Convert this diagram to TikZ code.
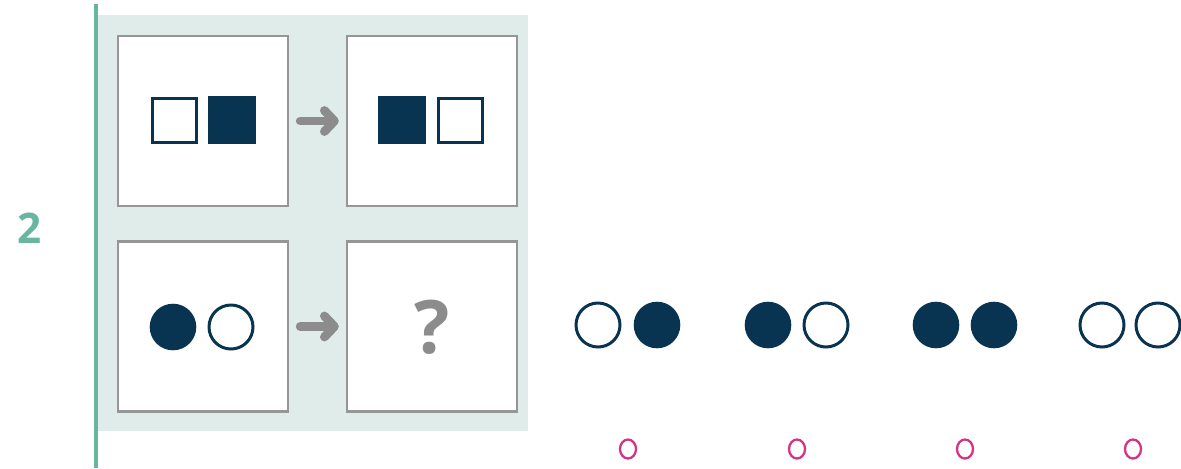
\documentclass[tikz,border=0pt]{standalone}
\usepackage{fontspec}
\newfontfamily\puzzlefont{Open Sans}
\usetikzlibrary{arrows.meta}

\definecolor{navy}{RGB}{8,52,82}
\definecolor{tealmark}{RGB}{104,182,160}
\definecolor{panelbg}{RGB}{223,236,233}
\definecolor{boxgray}{RGB}{150,150,150}
\definecolor{arrowgray}{RGB}{140,140,140}
\definecolor{pickpink}{RGB}{214,51,132}

\tikzset{
  puzzlebox/.style={draw=boxgray, line width=1.4pt, fill=white,
    minimum size=3.4cm, inner sep=0pt},
  puzzlearrow/.style={draw=arrowgray, line width=5pt, line cap=round,
    -{Straight Barb[round, length=0.2cm, width=0.42cm]},
    shorten <=0.22cm, shorten >=0.14cm},
  openshape/.style={draw=navy, line width=1.7pt, fill=white, radius=22},
  fullshape/.style={fill=navy, radius=23.3},
  pickmark/.style={draw=pickpink, line width=1.3pt}
}

\begin{document}
\begin{tikzpicture}[x=0.02cm,y=-0.02cm]
    \useasboundingbox (0,0) rectangle (1181,468);

    % question number and margin line
    \node[text=tealmark, font=\puzzlefont\bfseries\fontsize{24}{24}\selectfont] (qnum) at (30,228) {2};
    \fill[panelbg] (98,15) rectangle (528,431);
    \draw[tealmark, line width=2.8pt] (96,4) -- (96,468);

    % the four boxes
    \node[puzzlebox] (topleft) at (203,121) {};
    \node[puzzlebox] (topright) at (432,121) {};
    \node[puzzlebox] (botleft) at (203,326.5) {};
    \node[puzzlebox] (botright) at (432,326.5) {};

    \draw[puzzlearrow] (topleft) -- (topright);
    \draw[puzzlearrow] (botleft) -- (botright);

    % squares
    \draw[openshape] (152.5,98.5) rectangle (196.5,142.5);
    \fill[navy] (208,96) rectangle (256,144);
    \fill[navy] (378,96) rectangle (426,144);
    \draw[openshape] (438.5,98.5) rectangle (482.5,142.5);

    % circles
    \path[fullshape] (173,327) circle[];
    \path[openshape] (231,327) circle[];

    \node[text=arrowgray, font=\puzzlefont\bfseries\fontsize{42}{42}\selectfont] (qmark) at (432,327) {?};

    % answer options
    \foreach \xa/\xb/\sa/\sb in {598/657/openshape/fullshape, 768/826/fullshape/openshape,
                                 936/994/fullshape/fullshape, 1102/1158/openshape/openshape}{
        \path[\sa] (\xa,325) circle[];
        \path[\sb] (\xb,325) circle[];
    }
    \foreach \x in {628,797,965,1133}
        \draw[pickmark] (\x,449) ellipse (8 and 9.5);

\end{tikzpicture}
\end{document}
